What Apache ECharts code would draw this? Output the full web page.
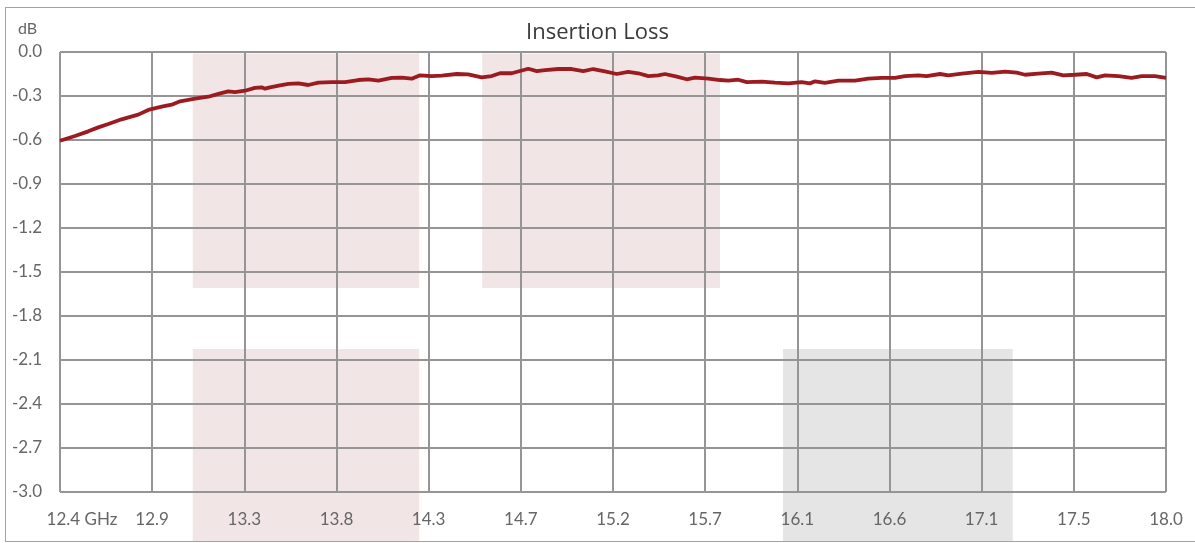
<!DOCTYPE html>
<html>
<head>
<meta charset="utf-8">
<script src="https://cdn.jsdelivr.net/npm/echarts@6/dist/echarts.min.js"></script>
<style>
  html, body { margin: 0; padding: 0; background: #ffffff; }
  #wrap { position: relative; width: 1195px; height: 543px; overflow: hidden; }
  #chart { position: absolute; left: 0; top: 0; width: 1195px; height: 543px; }
  #frame { position: absolute; left: 5px; top: 7px; width: 1220px; height: 533px;
           border: 1.5px solid #a3a3a3; pointer-events: none; }
</style>
</head>
<body>
<div id="wrap">
  <div id="chart"></div>
  <div id="frame"></div>
</div>
<script>
// ---- data ----
const chartTitle = 'Insertion Loss';
const yUnit = 'dB';
const xTickLabels = ['12.4 GHz', '12.9', '13.3', '13.8', '14.3', '14.7', '15.2', '15.7', '16.1', '16.6', '17.1', '17.5', '18.0'];

const freqGHz = [
  12.400, 12.476, 12.543, 12.594, 12.645, 12.712, 12.796, 12.847, 12.915, 12.966,
  13.008, 13.084, 13.151, 13.202, 13.252, 13.286, 13.337, 13.387, 13.421, 13.438,
  13.463, 13.514, 13.556, 13.607, 13.657, 13.708, 13.776, 13.843, 13.910, 13.961,
  14.012, 14.080, 14.130, 14.181, 14.223, 14.282, 14.333, 14.409, 14.467, 14.535,
  14.586, 14.628, 14.687, 14.771, 14.814, 14.856, 14.923, 14.991, 15.050, 15.100,
  15.159, 15.219, 15.277, 15.328, 15.379, 15.429, 15.463, 15.523, 15.573, 15.615,
  15.683, 15.742, 15.784, 15.834, 15.877, 15.953, 16.020, 16.088, 16.155, 16.197,
  16.223, 16.273, 16.341, 16.425, 16.493, 16.560, 16.628, 16.678, 16.746, 16.788,
  16.856, 16.898, 16.966, 17.050, 17.118, 17.185, 17.244, 17.286, 17.353, 17.421,
  17.480, 17.539, 17.599, 17.649, 17.691, 17.759, 17.826, 17.877, 17.944, 18.000
];
const insertionLossDb = [
  -0.605, -0.573, -0.541, -0.514, -0.491, -0.459, -0.427, -0.395, -0.373, -0.359,
  -0.336, -0.318, -0.305, -0.286, -0.268, -0.273, -0.264, -0.245, -0.241, -0.250,
  -0.241, -0.227, -0.218, -0.214, -0.225, -0.209, -0.205, -0.205, -0.191, -0.186,
  -0.195, -0.177, -0.175, -0.182, -0.159, -0.164, -0.161, -0.150, -0.152, -0.173,
  -0.164, -0.145, -0.145, -0.114, -0.130, -0.123, -0.116, -0.116, -0.130, -0.116,
  -0.132, -0.150, -0.136, -0.145, -0.164, -0.159, -0.150, -0.168, -0.186, -0.175,
  -0.182, -0.191, -0.195, -0.189, -0.205, -0.202, -0.209, -0.214, -0.205, -0.214,
  -0.200, -0.211, -0.195, -0.195, -0.182, -0.177, -0.177, -0.164, -0.159, -0.164,
  -0.150, -0.159, -0.148, -0.136, -0.143, -0.134, -0.141, -0.155, -0.148, -0.141,
  -0.159, -0.155, -0.150, -0.173, -0.159, -0.164, -0.177, -0.164, -0.164, -0.177
];

// shaded bands (GHz from/to, dB top/bottom)
const shadeFrom   = [13.072, 14.538, 13.072, 16.061];
const shadeTo     = [14.219, 15.742, 14.219, 17.224];
const shadeTop    = [-0.01, -0.01, -2.025, -2.025];
const shadeBottom = [-1.609, -1.609, -3.335, -3.335];
const shadeKind   = ['pink', 'pink', 'pink', 'gray'];

const xMin = 12.4, xMax = 18.0;
const yMin = -3.0, yMax = 0.0, yStep = 0.3;

// ---- chart ----
const shadeColors = { pink: '#f2e5e6', gray: '#e5e5e5' };
const FONT = 'Lato, "Open Sans", sans-serif';
const LABEL_COLOR = '#666666';
const chart = echarts.init(document.getElementById('chart'), null, { renderer: 'canvas' });

const lineData = freqGHz.map((f, i) => [f, insertionLossDb[i]]);
const shadeData = shadeFrom.map((f, i) => [f, shadeTo[i], shadeTop[i], shadeBottom[i], i]);

chart.setOption({
  animation: false,
  title: [
    { text: chartTitle, left: 'center', top: 17,
      textStyle: { fontFamily: '"Open Sans", Lato, sans-serif', fontSize: 22, fontWeight: 'normal', color: '#3a3a3a' } },
    { text: yUnit, left: 13, top: 16,
      textStyle: { fontFamily: FONT, fontSize: 16, fontWeight: 'normal', color: LABEL_COLOR } }
  ],
  grid: { left: 60, top: 52, width: 1106, height: 440, containLabel: false },
  xAxis: [
    {
      type: 'value', min: 0, max: xTickLabels.length - 1, interval: 1,
      axisLine: { show: false }, axisTick: { show: false },
      axisLabel: {
        margin: 19, color: LABEL_COLOR, fontFamily: FONT, fontSize: 17,
        showMinLabel: true, showMaxLabel: true,
        formatter: function (v) {
          const i = Math.round(v);
          return i === 0 ? '{pad| }{v|' + xTickLabels[i] + '}' : '{v|' + xTickLabels[i] + '}';
        },
        rich: {
          pad: { width: 44, fontFamily: FONT, fontSize: 17 },
          v: { color: LABEL_COLOR, fontFamily: FONT, fontSize: 17 }
        }
      },
      splitLine: { show: true, lineStyle: { color: '#959595', width: 2 } }
    },
    {
      type: 'value', min: xMin, max: xMax, show: false,
      splitLine: { show: false }
    }
  ],
  yAxis: {
    type: 'value', min: yMin, max: yMax, interval: yStep,
    axisLine: { show: false }, axisTick: { show: false },
    axisLabel: {
      margin: 18, color: LABEL_COLOR, fontFamily: FONT, fontSize: 17,
      formatter: v => v.toFixed(1)
    },
    splitLine: { show: true, lineStyle: { color: '#959595', width: 2 } }
  },
  series: [
    {
      type: 'custom',
      xAxisIndex: 1,
      yAxisIndex: 0,
      clip: false,
      z: -1,
      silent: true,
      encode: { x: [0, 1], y: [2, 3] },
      data: shadeData,
      renderItem: function (params, api) {
        const p0 = api.coord([api.value(0), api.value(2)]);
        const p1 = api.coord([api.value(1), api.value(3)]);
        const kind = shadeKind[api.value(4)];
        return {
          type: 'rect',
          shape: { x: p0[0], y: p0[1], width: p1[0] - p0[0], height: p1[1] - p0[1] },
          style: { fill: shadeColors[kind] }
        };
      }
    },
    {
      type: 'line',
      xAxisIndex: 1,
      yAxisIndex: 0,
      data: lineData,
      showSymbol: false,
      symbol: 'none',
      smooth: false,
      z: 5,
      lineStyle: { color: '#9b1b20', width: 3.8 }
    }
  ]
});
</script>
</body>
</html>
